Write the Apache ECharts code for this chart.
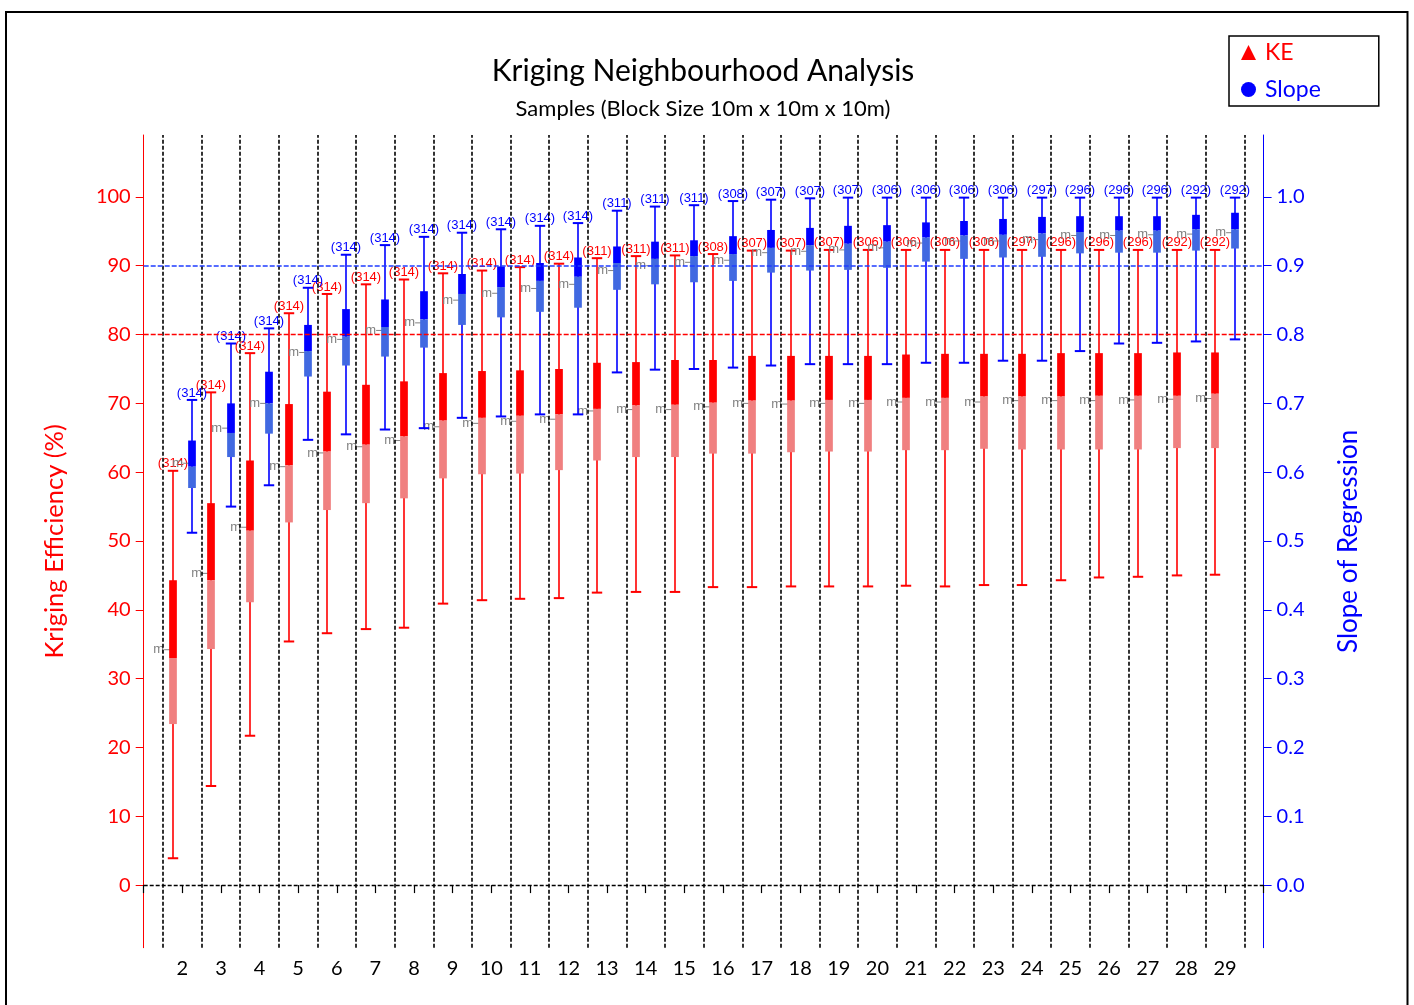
<!DOCTYPE html>
<html>
<head>
<meta charset="utf-8">
<script src="https://cdn.jsdelivr.net/npm/echarts@6/dist/echarts.min.js"></script>
<style>
  html, body { margin: 0; padding: 0; background: #ffffff; }
  #chart { width: 1414px; height: 1005px; }
</style>
</head>
<body>
<div id="chart"></div>
<script>
// Number of samples in the search neighbourhood
const categories = [2, 3, 4, 5, 6, 7, 8, 9, 10, 11, 12, 13, 14, 15, 16, 17, 18, 19, 20, 21, 22, 23, 24, 25, 26, 27, 28, 29];

// Kriging efficiency (%) statistics per neighbourhood size
const keMin    = [3.9, 14.4, 21.7, 35.4, 36.6, 37.2, 37.4, 40.9, 41.4, 41.6, 41.7, 42.5, 42.6, 42.6, 43.3, 43.3, 43.4, 43.4, 43.4, 43.5, 43.4, 43.6, 43.6, 44.3, 44.7, 44.8, 45.0, 45.1];
const keQ1     = [23.4, 34.3, 41.1, 52.7, 54.5, 55.5, 56.2, 59.1, 59.7, 59.8, 60.3, 61.7, 62.2, 62.2, 62.7, 62.7, 62.9, 63.0, 63.0, 63.2, 63.2, 63.4, 63.3, 63.3, 63.3, 63.3, 63.5, 63.5];
const keMedian = [33.0, 44.3, 51.5, 61.0, 63.0, 64.0, 65.2, 67.5, 67.9, 68.2, 68.4, 69.2, 69.7, 69.8, 70.1, 70.4, 70.4, 70.5, 70.5, 70.8, 70.8, 71.0, 71.0, 71.0, 71.1, 71.1, 71.1, 71.4];
const keQ3     = [44.3, 55.5, 61.7, 69.9, 71.7, 72.7, 73.2, 74.4, 74.7, 74.8, 75.0, 75.9, 76.0, 76.3, 76.3, 76.9, 76.9, 76.9, 76.9, 77.1, 77.2, 77.2, 77.2, 77.3, 77.3, 77.3, 77.4, 77.4];
const keMax    = [60.2, 71.6, 77.3, 83.1, 85.9, 87.3, 88.0, 88.9, 89.3, 89.8, 90.3, 91.1, 91.4, 91.5, 91.7, 92.2, 92.2, 92.3, 92.3, 92.3, 92.3, 92.3, 92.3, 92.3, 92.3, 92.3, 92.3, 92.3];
const keMean   = [34.2, 45.3, 52.0, 60.8, 62.8, 63.7, 64.6, 66.6, 67.1, 67.4, 67.7, 68.9, 69.1, 69.1, 69.5, 70.0, 69.9, 70.0, 70.0, 70.2, 70.2, 70.2, 70.4, 70.4, 70.4, 70.5, 70.6, 70.7];
const keCount  = [314, 314, 314, 314, 314, 314, 314, 314, 314, 314, 314, 311, 311, 311, 308, 307, 307, 307, 306, 306, 306, 306, 297, 296, 296, 296, 292, 292];

// Slope of regression statistics per neighbourhood size
const slopeMin    = [0.512, 0.550, 0.581, 0.647, 0.655, 0.662, 0.664, 0.679, 0.681, 0.684, 0.684, 0.745, 0.749, 0.750, 0.752, 0.755, 0.757, 0.757, 0.757, 0.759, 0.759, 0.762, 0.762, 0.776, 0.787, 0.788, 0.790, 0.793];
const slopeQ1     = [0.577, 0.622, 0.656, 0.739, 0.755, 0.768, 0.781, 0.814, 0.825, 0.833, 0.839, 0.865, 0.873, 0.876, 0.878, 0.890, 0.893, 0.894, 0.897, 0.906, 0.910, 0.912, 0.913, 0.918, 0.919, 0.919, 0.922, 0.925];
const slopeMedian = [0.608, 0.657, 0.700, 0.776, 0.797, 0.811, 0.822, 0.859, 0.869, 0.878, 0.884, 0.904, 0.910, 0.914, 0.917, 0.926, 0.930, 0.932, 0.935, 0.941, 0.944, 0.945, 0.947, 0.949, 0.951, 0.951, 0.953, 0.953];
const slopeQ3     = [0.646, 0.700, 0.746, 0.814, 0.837, 0.851, 0.863, 0.888, 0.899, 0.904, 0.912, 0.928, 0.935, 0.937, 0.943, 0.952, 0.955, 0.958, 0.959, 0.963, 0.965, 0.968, 0.971, 0.972, 0.972, 0.972, 0.974, 0.977];
const slopeMax    = [0.705, 0.787, 0.809, 0.868, 0.916, 0.930, 0.942, 0.948, 0.953, 0.958, 0.962, 0.980, 0.986, 0.988, 0.994, 0.996, 0.998, 0.999, 0.999, 0.999, 0.999, 0.999, 0.999, 0.999, 0.999, 0.999, 0.999, 0.999];
const slopeMean   = [0.613, 0.664, 0.700, 0.774, 0.793, 0.806, 0.817, 0.850, 0.860, 0.867, 0.873, 0.893, 0.900, 0.905, 0.908, 0.919, 0.921, 0.923, 0.926, 0.933, 0.936, 0.936, 0.938, 0.944, 0.944, 0.945, 0.946, 0.948];
const slopeCount  = [314, 314, 314, 314, 314, 314, 314, 314, 314, 314, 314, 311, 311, 311, 308, 307, 307, 307, 306, 306, 306, 306, 297, 296, 296, 296, 292, 292];

// Reference levels and axis tick labels
const keTarget = 80;
const slopeTarget = 0.9;
const keTicks = [0, 10, 20, 30, 40, 50, 60, 70, 80, 90, 100];
const slopeTicks = [0, 0.1, 0.2, 0.3, 0.4, 0.5, 0.6, 0.7, 0.8, 0.9, 1.0];

const RED = '#ff0000', RED_LIGHT = '#f08080';
const BLUE = '#0000ff', BLUE_LIGHT = '#4169e1';
const GREY = '#808080';
const SANS = '"Liberation Sans", Arial, sans-serif';
const LATO = 'Lato, "Open Sans", sans-serif';

function rows(mins, q1s, meds, q3s, maxs, means, counts) {
  return categories.map((c, i) => [c, mins[i], q1s[i], meds[i], q3s[i], maxs[i], means[i], counts[i]]);
}

// Box with whiskers: dark upper half (Q3..median), light lower half (median..Q1),
// mean marked with "m", sample count above the upper whisker.
function boxRenderer(offset, dark, light) {
  return function (params, api) {
    const x = api.value(0) + offset;
    const pMin = api.coord([x, api.value(1)]);
    const pQ1 = api.coord([x, api.value(2)]);
    const pMed = api.coord([x, api.value(3)]);
    const pQ3 = api.coord([x, api.value(4)]);
    const pMax = api.coord([x, api.value(5)]);
    const pMean = api.coord([x, api.value(6)]);
    const count = api.value(7);
    const cx = Math.round(pMin[0]);
    const half = api.size([0.2, 0])[0] / 2;
    const capHalf = api.size([0.27, 0])[0] / 2;
    return {
      type: 'group',
      children: [
        { type: 'line', shape: { x1: cx, y1: pMin[1], x2: cx, y2: pMax[1] },
          style: { stroke: dark, lineWidth: 1.6 } },
        { type: 'line', shape: { x1: cx - capHalf, y1: pMax[1], x2: cx + capHalf, y2: pMax[1] },
          style: { stroke: dark, lineWidth: 2 } },
        { type: 'line', shape: { x1: cx - capHalf, y1: pMin[1], x2: cx + capHalf, y2: pMin[1] },
          style: { stroke: dark, lineWidth: 2 } },
        { type: 'line', shape: { x1: cx - half - 5, y1: pMean[1], x2: cx - half + 1, y2: pMean[1] },
          style: { stroke: GREY, lineWidth: 1 } },
        { type: 'text', x: cx - half - 5, y: pMean[1],
          style: { text: 'm', fill: GREY, font: '13px ' + SANS, align: 'right', verticalAlign: 'middle' } },
        { type: 'rect', shape: { x: cx - half, y: pQ3[1], width: half * 2, height: pMed[1] - pQ3[1] },
          style: { fill: dark } },
        { type: 'rect', shape: { x: cx - half, y: pMed[1], width: half * 2, height: pQ1[1] - pMed[1] },
          style: { fill: light } },
        { type: 'text', x: cx, y: pMax[1] - 7,
          style: { text: '(' + count + ')', fill: dark, font: '13px ' + SANS, align: 'center', verticalAlign: 'middle' } }
      ]
    };
  };
}

// Dashed separators between neighbourhood sizes
const separators = categories.map(c => ({ xAxis: c - 0.5 }));
separators.push({ xAxis: categories[categories.length - 1] + 0.5 });

const xMin = categories[0] - 1;
const xMax = categories[categories.length - 1] + 1;

const option = {
  animation: false,
  backgroundColor: '#ffffff',
  title: {
    text: 'Kriging Neighbourhood Analysis',
    subtext: 'Samples (Block Size 10m x 10m x 10m)',
    left: 698,
    textAlign: 'center',
    top: 51,
    itemGap: 12,
    textStyle: { fontFamily: LATO, fontSize: 30, fontWeight: 'normal', color: '#000000' },
    subtextStyle: { fontFamily: LATO, fontSize: 22, color: '#000000' }
  },
  legend: {
    orient: 'vertical',
    left: 1229,
    top: 36,
    padding: [5, 58, 5, 12],
    itemGap: 14,
    itemWidth: 15,
    itemHeight: 15,
    borderColor: '#000000',
    borderWidth: 1.5,
    borderRadius: 0,
    selectedMode: false,
    textStyle: { fontFamily: LATO, fontSize: 23, padding: [0, 0, 0, 4] },
    data: [
      { name: 'KE', icon: 'triangle', textStyle: { color: RED } },
      { name: 'Slope', icon: 'circle', textStyle: { color: BLUE } }
    ]
  },
  grid: { left: 143.7, right: 150.4, top: 135, bottom: 57.3, containLabel: false },
  xAxis: {
    type: 'value',
    min: xMin,
    max: xMax,
    interval: 1,
    axisLine: { show: true, lineStyle: { color: '#000000', opacity: 0 } },
    axisTick: { show: true, length: 8, lineStyle: { color: '#000000', width: 1.2, opacity: 1 } },
    axisLabel: {
      margin: 11,
      color: '#000000',
      fontFamily: LATO,
      fontSize: 20,
      formatter: v => (v >= categories[0] && v <= categories[categories.length - 1]) ? String(v) : ''
    },
    splitLine: { show: false }
  },
  yAxis: [
    {
      type: 'value',
      min: -9.1,
      max: 109,
      name: 'Kriging Efficiency (%)',
      nameLocation: 'middle',
      nameGap: 76,
      nameTextStyle: { color: RED, fontFamily: LATO, fontSize: 25.5 },
      axisLine: { show: true, lineStyle: { color: RED, width: 1 } },
      axisTick: { show: true, length: 8, customValues: keTicks, lineStyle: { color: RED } },
      axisLabel: { color: RED, fontFamily: LATO, fontSize: 20, margin: 13, customValues: keTicks },
      splitLine: { show: false }
    },
    {
      type: 'value',
      min: -0.091,
      max: 1.09,
      position: 'right',
      name: 'Slope of Regression',
      nameLocation: 'middle',
      nameGap: 72,
      nameTextStyle: { color: BLUE, fontFamily: LATO, fontSize: 26 },
      axisLine: { show: true, lineStyle: { color: BLUE, width: 1 } },
      axisTick: { show: true, length: 8, customValues: slopeTicks, lineStyle: { color: BLUE } },
      axisLabel: { color: BLUE, fontFamily: LATO, fontSize: 20, margin: 13, customValues: slopeTicks,
                   formatter: v => v.toFixed(1) },
      splitLine: { show: false }
    }
  ],
  series: [
    {
      name: 'guides-ke',
      type: 'line',
      z: 1,
      data: [],
      markLine: {
        silent: true,
        symbol: ['none', 'none'],
        label: { show: false },
        animation: false,
        lineStyle: { color: '#000000', type: [4, 2], width: 1.6 },
        data: [
          ...separators.map(s => Object.assign({ lineStyle: { color: '#000000', type: [4, 2], width: 1.6 } }, s)),
          { yAxis: 0, lineStyle: { color: '#000000', type: [4, 2], width: 1.4 } },
          { yAxis: keTarget, lineStyle: { color: RED, type: [5, 2], width: 1.3 } }
        ]
      }
    },
    {
      name: 'guides-slope',
      type: 'line',
      yAxisIndex: 1,
      z: 2,
      color: BLUE,
      itemStyle: { color: BLUE },
      lineStyle: { color: BLUE },
      data: [],
      markLine: {
        silent: true,
        symbol: ['none', 'none'],
        label: { show: false },
        animation: false,
        lineStyle: { color: '#1f3cff', type: [5, 2], width: 1.6 },
        data: [
          { yAxis: slopeTarget, lineStyle: { color: '#1f3cff', type: [5, 2], width: 1.6 } }
        ]
      }
    },
    {
      name: 'KE',
      type: 'custom',
      z: 3,
      yAxisIndex: 0,
      itemStyle: { color: RED },
      renderItem: boxRenderer(-0.25, RED, RED_LIGHT),
      encode: { x: 0, y: [1, 5] },
      data: rows(keMin, keQ1, keMedian, keQ3, keMax, keMean, keCount)
    },
    {
      name: 'Slope',
      type: 'custom',
      z: 3,
      yAxisIndex: 1,
      itemStyle: { color: BLUE },
      renderItem: boxRenderer(0.25, BLUE, BLUE_LIGHT),
      encode: { x: 0, y: [1, 5] },
      data: rows(slopeMin, slopeQ1, slopeMedian, slopeQ3, slopeMax, slopeMean, slopeCount)
    }
  ],
  graphic: [
    {
      type: 'rect',
      silent: true,
      shape: { x: 6, y: 12, width: 1401.5, height: 1010 },
      style: { fill: 'none', stroke: '#000000', lineWidth: 2 }
    }
  ]
};

const chart = echarts.init(document.getElementById('chart'));
chart.setOption(option);
</script>
</body>
</html>
